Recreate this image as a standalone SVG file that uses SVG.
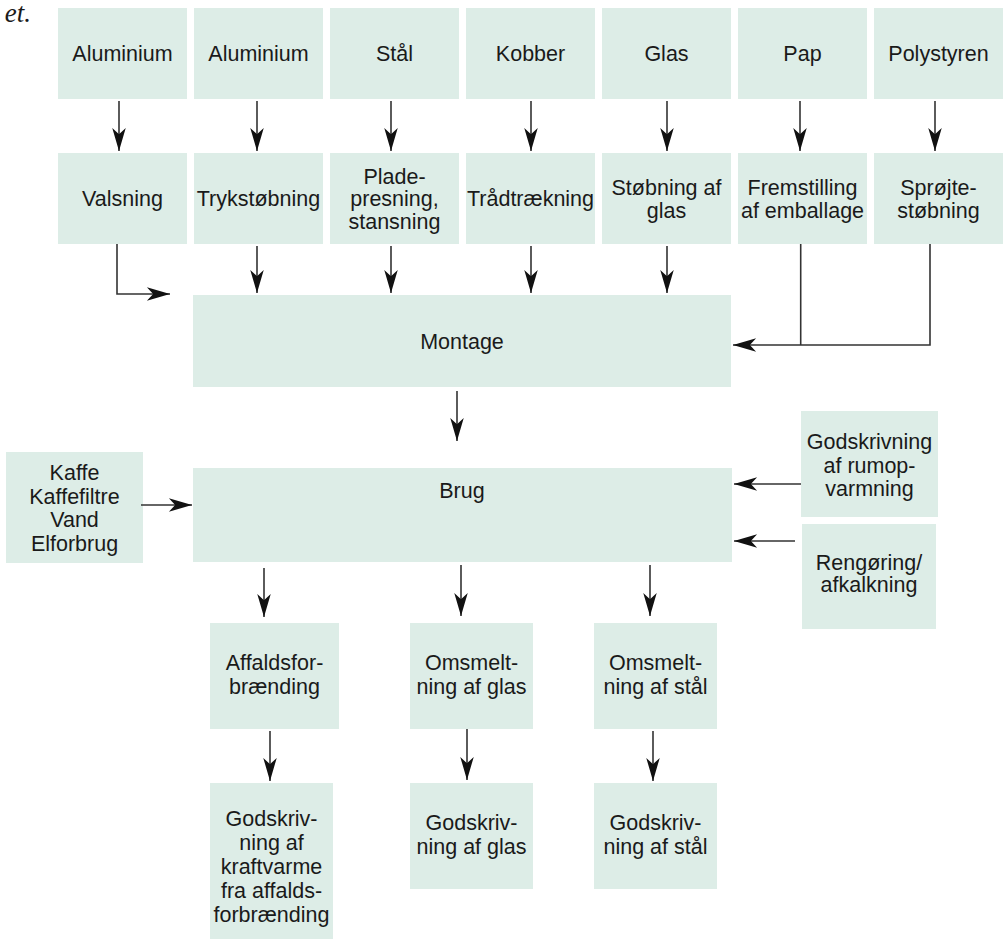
<svg xmlns="http://www.w3.org/2000/svg" width="1005" height="943" viewBox="0 0 1005 943">
<style>
.b{fill:#ddede7}
.t{font-family:"Liberation Sans",Arial,sans-serif;font-size:21.5px;fill:#1a1a1a;text-anchor:middle}
.c{fill:none;stroke:#333;stroke-width:1.6}
.cap{font-family:"Liberation Serif","Times New Roman",serif;font-style:italic;font-size:27px;fill:#1a1a1a;text-anchor:end}
</style>
<defs>
<marker id="ah" markerUnits="userSpaceOnUse" markerWidth="26" markerHeight="16" viewBox="-25 -8 27 16" refX="0" refY="0" orient="auto">
<path d="M0,0 L-24,-7 L-17.5,0 L-24,7 Z" fill="#111"/>
</marker>
</defs>
<rect width="1005" height="943" fill="#fff"/>
<text class="cap" x="31" y="22">et.</text>
<g id="n_al1"><rect class="b" x="58" y="8" width="129" height="91"/><text class="t" x="122.5" y="61">Aluminium</text></g>
<g id="n_al2"><rect class="b" x="194" y="8" width="129" height="91"/><text class="t" x="258.5" y="61">Aluminium</text></g>
<g id="n_staal"><rect class="b" x="330" y="8" width="129" height="91"/><text class="t" x="394.5" y="61">Stål</text></g>
<g id="n_kobber"><rect class="b" x="466" y="8" width="129" height="91"/><text class="t" x="530.5" y="61">Kobber</text></g>
<g id="n_glas"><rect class="b" x="602" y="8" width="129" height="91"/><text class="t" x="666.5" y="61">Glas</text></g>
<g id="n_pap"><rect class="b" x="738" y="8" width="129" height="91"/><text class="t" x="802.5" y="61">Pap</text></g>
<g id="n_poly"><rect class="b" x="874" y="8" width="129" height="91"/><text class="t" x="938.5" y="61">Polystyren</text></g>

<g id="n_valsning"><rect class="b" x="58" y="153" width="129" height="91"/><text class="t" x="122.5" y="206">Valsning</text></g>
<g id="n_tryk"><rect class="b" x="194" y="153" width="129" height="91"/><text class="t" x="258.5" y="206">Trykstøbning</text></g>
<g id="n_plade"><rect class="b" x="330" y="153" width="129" height="91"/><text class="t" x="394.5" y="183.5">Plade-</text><text class="t" x="394.5" y="206">presning,</text><text class="t" x="394.5" y="228.5">stansning</text></g>
<g id="n_traad"><rect class="b" x="466" y="153" width="129" height="91"/><text class="t" x="530.5" y="206">Trådtrækning</text></g>
<g id="n_stoeb"><rect class="b" x="602" y="153" width="129" height="91"/><text class="t" x="666.5" y="195">Støbning af</text><text class="t" x="666.5" y="217.5">glas</text></g>
<g id="n_frem"><rect class="b" x="738" y="153" width="129" height="91"/><text class="t" x="802.5" y="195">Fremstilling</text><text class="t" x="802.5" y="217.5">af emballage</text></g>
<g id="n_sproejte"><rect class="b" x="874" y="153" width="129" height="91"/><text class="t" x="938.5" y="195">Sprøjte-</text><text class="t" x="938.5" y="217.5">støbning</text></g>

<g id="n_montage"><rect class="b" x="193" y="295" width="538" height="92"/><text class="t" x="462" y="349">Montage</text></g>
<g id="n_brug"><rect class="b" x="193" y="468" width="539" height="94"/><text class="t" x="462" y="498">Brug</text></g>
<g id="n_kaffe"><rect class="b" x="6" y="452" width="137" height="111"/><text class="t" x="74.5" y="480">Kaffe</text><text class="t" x="74.5" y="503.5">Kaffefiltre</text><text class="t" x="74.5" y="527">Vand</text><text class="t" x="74.5" y="550.5">Elforbrug</text></g>
<g id="n_rumop"><rect class="b" x="801" y="411" width="137" height="106"/><text class="t" x="869.5" y="449">Godskrivning</text><text class="t" x="869.5" y="472.5">af rumop-</text><text class="t" x="869.5" y="496">varmning</text></g>
<g id="n_reng"><rect class="b" x="802" y="524" width="134" height="105"/><text class="t" x="869" y="569.5">Rengøring/</text><text class="t" x="869" y="592">afkalkning</text></g>

<g id="n_affald"><rect class="b" x="210" y="623" width="129" height="106"/><text class="t" x="274.5" y="669.5">Affaldsfor-</text><text class="t" x="274.5" y="693.5">brænding</text></g>
<g id="n_omglas"><rect class="b" x="410" y="623" width="123" height="106"/><text class="t" x="471.5" y="669.5">Omsmelt-</text><text class="t" x="471.5" y="693.5">ning af glas</text></g>
<g id="n_omstaal"><rect class="b" x="594" y="623" width="123" height="106"/><text class="t" x="655.5" y="669.5">Omsmelt-</text><text class="t" x="655.5" y="693.5">ning af stål</text></g>
<g id="n_gkraft"><rect class="b" x="210" y="783" width="123" height="156"/><text class="t" x="271.5" y="826">Godskriv-</text><text class="t" x="271.5" y="849.5">ning af</text><text class="t" x="271.5" y="873.5">kraftvarme</text><text class="t" x="271.5" y="897.5">fra affalds-</text><text class="t" x="271.5" y="921.5">forbrænding</text></g>
<g id="n_gglas"><rect class="b" x="410" y="783" width="123" height="106"/><text class="t" x="471.5" y="829.5">Godskriv-</text><text class="t" x="471.5" y="853.5">ning af glas</text></g>
<g id="n_gstaal"><rect class="b" x="594" y="783" width="123" height="106"/><text class="t" x="655.5" y="829.5">Godskriv-</text><text class="t" x="655.5" y="853.5">ning af stål</text></g>

<g id="connectors">
<path class="c" marker-end="url(#ah)" d="M119,101 V151"/>
<path class="c" marker-end="url(#ah)" d="M257,101 V151"/>
<path class="c" marker-end="url(#ah)" d="M391,101 V151"/>
<path class="c" marker-end="url(#ah)" d="M531,101 V151"/>
<path class="c" marker-end="url(#ah)" d="M667,101 V151"/>
<path class="c" marker-end="url(#ah)" d="M800,101 V151"/>
<path class="c" marker-end="url(#ah)" d="M935,101 V151"/>
<path class="c" marker-end="url(#ah)" d="M117,244 V294 H170"/>
<path class="c" marker-end="url(#ah)" d="M257,246 V293"/>
<path class="c" marker-end="url(#ah)" d="M391,246 V293"/>
<path class="c" marker-end="url(#ah)" d="M531,246 V293"/>
<path class="c" marker-end="url(#ah)" d="M667,246 V293"/>
<path class="c" d="M800.7,244 V345"/>
<path class="c" marker-end="url(#ah)" d="M930,244 V345 H733"/>
<path class="c" marker-end="url(#ah)" d="M457,391 V441"/>
<path class="c" marker-end="url(#ah)" d="M141,505 H192"/>
<path class="c" marker-end="url(#ah)" d="M801,484 H734"/>
<path class="c" marker-end="url(#ah)" d="M795,541 H734"/>
<path class="c" marker-end="url(#ah)" d="M264,568 V617"/>
<path class="c" marker-end="url(#ah)" d="M461,565 V616"/>
<path class="c" marker-end="url(#ah)" d="M650,565 V616"/>
<path class="c" marker-end="url(#ah)" d="M270,731 V781"/>
<path class="c" marker-end="url(#ah)" d="M467,729 V780"/>
<path class="c" marker-end="url(#ah)" d="M653,731 V781"/>
</g>
</svg>
